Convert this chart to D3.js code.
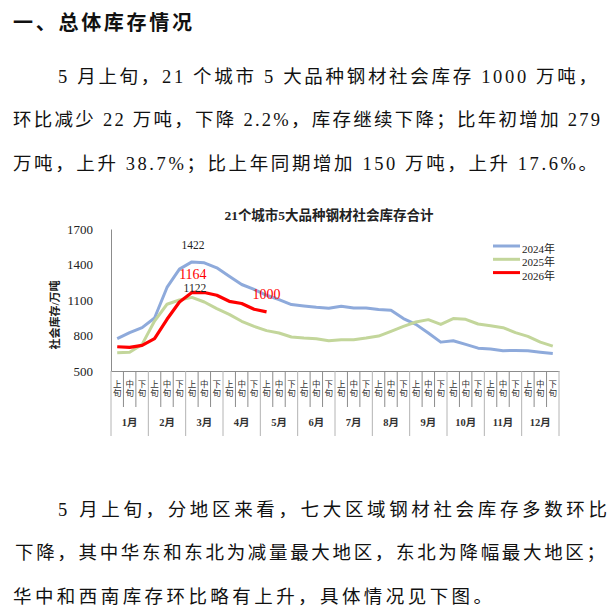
<!DOCTYPE html>
<html>
<head>
<meta charset="utf-8">
<script src="https://cdn.jsdelivr.net/npm/d3@7"></script>
<style>
  body { margin: 0; background: #fff; }
  svg { display: block; }
</style>
</head>
<body>
<svg id="page" width="616" height="614"></svg>
<script>
// chart data
var months = ["1月", "2月", "3月", "4月", "5月", "6月", "7月", "8月", "9月", "10月", "11月", "12月"];
var periods = ["上旬", "中旬", "下旬"];
var seriesNames = ["2024年", "2025年", "2026年"];
var s2024 = [773, 824, 866, 948, 1206, 1361, 1422, 1414, 1372, 1301, 1231, 1189,
             1140, 1104, 1061, 1050, 1038, 1030, 1047, 1033, 1033, 1019, 1013, 943,
             894, 821, 744, 756, 725, 693, 685, 671, 674, 671, 659, 648];
var s2025 = [654, 659, 725, 922, 1064, 1100, 1122, 1083, 1027, 979, 920, 877,
             841, 821, 787, 778, 773, 756, 765, 765, 778, 795, 835, 877,
             914, 934, 894, 943, 937, 897, 883, 866, 824, 793, 744, 710];
var s2026 = [705, 699, 716, 773, 937, 1083, 1164, 1163, 1140, 1089, 1070, 1022, 1000];
var yTicks = [500, 800, 1100, 1400, 1700];
var chartTitle = "21个城市5大品种钢材社会库存合计";
var yTitle = "社会库存/万吨";

// text around the chart
var heading = "一、总体库存情况";
var para1 = [
  "5 月上旬，21 个城市 5 大品种钢材社会库存 1000 万吨，",
  "环比减少 22 万吨，下降 2.2%，库存继续下降；比年初增加 279",
  "万吨，上升 38.7%；比上年同期增加 150 万吨，上升 17.6%。"
];
var para2 = [
  "5 月上旬，分地区来看，七大区域钢材社会库存多数环比",
  "下降，其中华东和东北为减量最大地区，东北为降幅最大地区；",
  "华中和西南库存环比略有上升，具体情况见下图。"
];

var cjk = "'Liberation Serif', 'Noto Sans CJK SC', serif";
var svg = d3.select("#page");

// heading + paragraphs
svg.append("text")
  .attr("x", 13).attr("y", 21)
  .attr("dominant-baseline", "central")
  .attr("textLength", 179).attr("lengthAdjust", "spacing")
  .style("font-family", "'Noto Sans CJK SC', sans-serif")
  .style("font-weight", "bold")
  .style("font-size", "20px")
  .style("fill", "#111")
  .text(heading);

function paragraph(lines, lineX, lineY, lineW) {
  lines.forEach(function(t, i) {
    svg.append("text")
      .attr("x", lineX[i]).attr("y", lineY[i])
      .attr("dominant-baseline", "central")
      .attr("textLength", lineW[i]).attr("lengthAdjust", "spacing")
      .style("font-family", cjk)
      .style("font-size", "18.5px")
      .style("fill", "#111")
      .text(t);
  });
}
paragraph(para1, [58, 13, 13], [77, 120, 164], [539, 587, 584]);
paragraph(para2, [58, 15, 13], [510, 553, 597], [549, 590, 479]);

// chart
var x = d3.scaleBand()
  .domain(d3.range(months.length * periods.length))
  .range([111, 559]);
var y = d3.scaleLinear().domain([500, 1700]).range([371, 229]);
var step = x.step();

svg.append("text")
  .attr("x", 329).attr("y", 215)
  .attr("text-anchor", "middle")
  .attr("dominant-baseline", "central")
  .style("font-family", cjk)
  .style("font-size", "13.5px")
  .style("font-weight", "bold")
  .style("fill", "#222")
  .text(chartTitle);

// y axis
var yAxis = svg.append("g")
  .attr("transform", "translate(111,0)")
  .call(d3.axisLeft(y).tickValues(yTicks).tickSize(0).tickPadding(18).tickFormat(d3.format("d")));
yAxis.select(".domain").attr("stroke", "#8c8c8c");
yAxis.selectAll("text")
  .style("font-family", "'Liberation Serif', serif")
  .style("font-size", "13px")
  .style("fill", "#222");

svg.append("text")
  .attr("transform", "translate(55,315) rotate(-90)")
  .attr("text-anchor", "middle")
  .attr("dominant-baseline", "central")
  .style("font-family", cjk)
  .style("font-size", "11px")
  .style("font-weight", "bold")
  .style("fill", "#222")
  .text(yTitle);

// x axis: ten-day periods, grouped by month; labels written top to bottom
var xAxis = svg.append("g")
  .attr("transform", "translate(0,371)")
  .call(d3.axisBottom(x).tickSize(0).tickFormat(function(d) { return periods[d % 3]; }));
xAxis.select(".domain").attr("stroke", "#8c8c8c");
xAxis.selectAll(".tick text")
  .attr("y", 18).attr("dy", null)
  .attr("text-anchor", "middle")
  .style("writing-mode", "vertical-rl")
  .style("letter-spacing", "1px")
  .style("font-family", "'Noto Sans CJK SC', sans-serif")
  .style("font-size", "8.5px")
  .style("fill", "#333");

d3.range(months.length * periods.length + 1).forEach(function(i) {
  var xi = x.range()[0] + i * step;
  var isMonth = i % 3 === 0;
  svg.append("line")
    .attr("x1", xi).attr("x2", xi)
    .attr("y1", 371).attr("y2", isMonth ? 436 : 407)
    .attr("stroke", isMonth ? "#b4b4b4" : "#8c8c8c")
    .attr("stroke-width", 1);
});

svg.append("g").selectAll("text")
  .data(months)
  .join("text")
  .attr("x", function(d, i) { return x(i * 3) + step * 1.5; })
  .attr("y", 422)
  .attr("text-anchor", "middle")
  .attr("dominant-baseline", "central")
  .style("font-family", cjk)
  .style("font-size", "10.5px")
  .style("font-weight", "bold")
  .style("fill", "#333")
  .text(function(d) { return d; });

// lines
var colors = ["#8eaadb", "#c3d69b", "#ff0000"];
var line = d3.line()
  .x(function(d, i) { return x(i) + step / 2; })
  .y(function(d) { return y(d); });

[s2024, s2025, s2026].forEach(function(s, k) {
  svg.append("path")
    .datum(s)
    .attr("d", line)
    .attr("fill", "none")
    .attr("stroke", colors[k])
    .attr("stroke-width", k === 2 ? 3.2 : 3)
    .attr("stroke-linejoin", "round");
});

// value labels
var labels = [
  { s: s2024, i: 6, dx: 1, dy: -17, color: "#222", size: "11.5px" },
  { s: s2026, i: 6, dx: 1, dy: -18, color: "#ff0000", size: "14px" },
  { s: s2025, i: 6, dx: 3, dy: -9, color: "#222", size: "11.5px" },
  { s: s2026, i: 12, dx: 0, dy: -17, color: "#ff0000", size: "14px" }
];
labels.forEach(function(l) {
  svg.append("text")
    .attr("x", x(l.i) + step / 2 + l.dx)
    .attr("y", y(l.s[l.i]) + l.dy)
    .attr("text-anchor", "middle")
    .attr("dominant-baseline", "central")
    .style("font-family", "'Liberation Serif', serif")
    .style("font-size", l.size)
    .style("fill", l.color)
    .text(l.s[l.i]);
});

// legend
seriesNames.forEach(function(name, k) {
  var ly = 246 + k * 13.3;
  svg.append("line")
    .attr("x1", 493).attr("x2", 520)
    .attr("y1", ly).attr("y2", ly)
    .attr("stroke", colors[k]).attr("stroke-width", 3);
  svg.append("text")
    .attr("x", 522).attr("y", ly + 3)
    .attr("dominant-baseline", "central")
    .style("font-family", cjk)
    .style("font-size", "11px")
    .style("fill", "#222")
    .text(name);
});
</script>
</body>
</html>
